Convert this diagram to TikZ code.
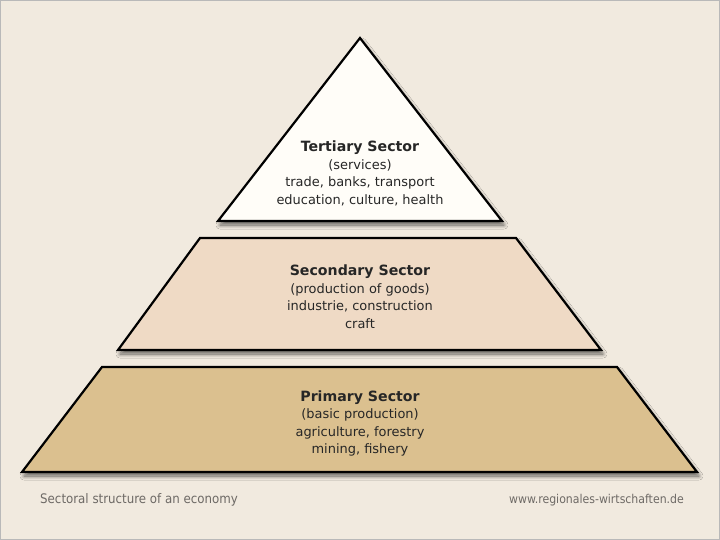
\documentclass[tikz,border=0pt]{standalone}
\usepackage{fontspec}
\setmainfont{DejaVu Sans}
\newfontfamily\capfont{DejaVu Sans Condensed}
\usetikzlibrary{shadows.blur}
\definecolor{paper}{HTML}{F1EADF}
\definecolor{topfill}{HTML}{FFFDF8}
\definecolor{midfill}{HTML}{EFDAC5}
\definecolor{lowfill}{HTML}{DBC08F}
\definecolor{captext}{HTML}{6E6A66}

\begin{document}
\begin{tikzpicture}[
      x=1bp,
      y=-1bp,
      sector/.style={draw=black,line width=2.2bp,line join=miter,
        blur shadow={shadow xshift=2bp,shadow yshift=-4bp,shadow blur steps=8,shadow blur radius=4bp,shadow opacity=60}},
      words/.style={align=center,text=black!85,font=\fontsize{13}{17.6}\selectfont},
      foot/.style={text=captext,inner sep=0pt}
    ]
    \fill[paper] (0,0) rectangle (720,540);
    \draw[gray!55,line width=1bp] (0.5,0.5) rectangle (719.5,539.5);
    % three layers of the pyramid
    \draw[sector,fill=lowfill] (102,367) -- (617,367) -- (697,472) -- (22,472) -- cycle;
    \draw[sector,fill=midfill] (200,238) -- (516,238) -- (601,350) -- (118,350) -- cycle;
    \draw[sector,fill=topfill] (360,38) -- (502,221) -- (218,221) -- cycle;
    \node (tertiary) [words] at (360,173.5) {{\bfseries\fontsize{14.2}{17.6}\selectfont Tertiary Sector}\\(services)\\trade, banks, transport\\education, culture, health};
    \node (secondary) [words] at (360,296.5) {{\bfseries\fontsize{14.2}{17.6}\selectfont Secondary Sector}\\(production of goods)\\industrie, construction\\craft};
    \node (primary) [words] at (360,423.5) {{\bfseries\fontsize{14.2}{17.6}\selectfont Primary Sector}\\(basic production)\\agriculture, forestry\\mining, fishery};
    \node (caption) [foot,anchor=west,font=\capfont\fontsize{13.2}{15}\selectfont] at (40,500) {Sectoral structure of an economy};
    \node (source) [foot,anchor=east,font=\capfont\fontsize{12.2}{15}\selectfont] at (684,500) {www.regionales-wirtschaften.de};
  \end{tikzpicture}
\end{document}
